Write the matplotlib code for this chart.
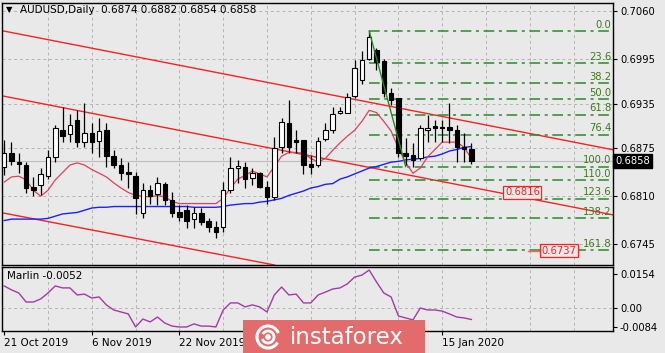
import matplotlib
matplotlib.use("Agg")
import matplotlib.pyplot as plt
from matplotlib.patches import Rectangle, Circle, Arc

# ---- data (AUDUSD daily, 21 Oct 2019 - 21 Jan 2020) ----
# labels for bars 36 and 48 are hidden under the watermark in the original
tick_bars = [0, 12, 24, 36, 48, 60]
tick_labels = ["21 Oct 2019", "6 Nov 2019", "22 Nov 2019", "", "", "15 Jan 2020"]

opens = [0.6849, 0.6868, 0.6856, 0.6852, 0.6823, 0.6825, 0.6837, 0.6863, 0.6900, 0.6894,
         0.6913, 0.6883, 0.6895, 0.6884, 0.6899, 0.6864, 0.6852, 0.6842, 0.6837, 0.6787,
         0.6818, 0.6813, 0.6826, 0.6805, 0.6788, 0.6791, 0.6779, 0.6787, 0.6777, 0.6769,
         0.6769, 0.6818, 0.6848, 0.6849, 0.6834, 0.6841, 0.6823, 0.6809, 0.6876, 0.6909,
         0.6886, 0.6886, 0.6853, 0.6852, 0.6887, 0.6899, 0.6922, 0.6923, 0.6945, 0.6967,
         0.6995, 0.7007, 0.6992, 0.6949, 0.6942, 0.6868, 0.6865, 0.6862, 0.6899, 0.6905,
         0.6904, 0.6903, 0.6899, 0.6876, 0.6874]
highs = [0.6886, 0.6883, 0.6869, 0.6856, 0.6836, 0.6848, 0.6873, 0.6906, 0.6930, 0.6921,
         0.6926, 0.6936, 0.6909, 0.6915, 0.6909, 0.6872, 0.6861, 0.6856, 0.6842, 0.6828,
         0.6825, 0.6836, 0.6829, 0.6815, 0.6798, 0.6798, 0.6795, 0.6794, 0.6781, 0.6777,
         0.6829, 0.6863, 0.6859, 0.6856, 0.6848, 0.6842, 0.6831, 0.6890, 0.6915, 0.6940,
         0.6899, 0.6886, 0.6865, 0.6890, 0.6909, 0.6930, 0.6930, 0.6950, 0.6994, 0.7006,
         0.7033, 0.7010, 0.6995, 0.6956, 0.6942, 0.6888, 0.6882, 0.6906, 0.6920, 0.6913,
         0.6913, 0.6936, 0.6906, 0.6895, 0.6882]
lows = [0.6838, 0.6852, 0.6841, 0.6814, 0.6810, 0.6811, 0.6833, 0.6856, 0.6883, 0.6883,
        0.6877, 0.6876, 0.6868, 0.6863, 0.6849, 0.6848, 0.6832, 0.6821, 0.6786, 0.6780,
        0.6800, 0.6798, 0.6798, 0.6782, 0.6777, 0.6767, 0.6767, 0.6771, 0.6761, 0.6754,
        0.6761, 0.6814, 0.6828, 0.6821, 0.6825, 0.6821, 0.6800, 0.6805, 0.6869, 0.6869,
        0.6869, 0.6840, 0.6840, 0.6849, 0.6884, 0.6895, 0.6921, 0.6922, 0.6942, 0.6961,
        0.6994, 0.6980, 0.6944, 0.6933, 0.6863, 0.6852, 0.6849, 0.6859, 0.6883, 0.6883,
        0.6883, 0.6882, 0.6856, 0.6856, 0.6854]
closes = [0.6869, 0.6857, 0.6854, 0.6821, 0.6819, 0.6840, 0.6863, 0.6902, 0.6891, 0.6906,
          0.6883, 0.6895, 0.6883, 0.6898, 0.6864, 0.6852, 0.6841, 0.6840, 0.6807, 0.6818,
          0.6810, 0.6828, 0.6805, 0.6787, 0.6782, 0.6777, 0.6787, 0.6775, 0.6768, 0.6761,
          0.6819, 0.6848, 0.6851, 0.6833, 0.6841, 0.6822, 0.6809, 0.6875, 0.6910, 0.6876,
          0.6883, 0.6852, 0.6850, 0.6884, 0.6900, 0.6921, 0.6925, 0.6944, 0.6983, 0.6994,
          0.7025, 0.6991, 0.6949, 0.6940, 0.6868, 0.6864, 0.6859, 0.6902, 0.6902, 0.6902,
          0.6902, 0.6899, 0.6876, 0.6874, 0.6858]

ma_fast = [0.6829, 0.6836, 0.6837, 0.6832, 0.6818, 0.6810, 0.6818, 0.6832, 0.6842, 0.6852,
           0.6855, 0.6852, 0.6846, 0.6841, 0.6836, 0.6828, 0.6821, 0.6815, 0.6811, 0.6810,
           0.6809, 0.6811, 0.6809, 0.6803, 0.6800, 0.6800, 0.6800, 0.6800, 0.6800, 0.6800,
           0.6807, 0.6821, 0.6833, 0.6838, 0.6844, 0.6840, 0.6836, 0.6850, 0.6864, 0.6869,
           0.6869, 0.6868, 0.6861, 0.6856, 0.6861, 0.6872, 0.6882, 0.6891, 0.6899, 0.6911,
           0.6926, 0.6923, 0.6911, 0.6898, 0.6875, 0.6855, 0.6841, 0.6848, 0.6863, 0.6873,
           0.6883, 0.6883, 0.6883, 0.6876, 0.6861]
ma_slow = [0.6777, 0.6779, 0.6779, 0.6779, 0.6779, 0.6779, 0.6780, 0.6783, 0.6786, 0.6787,
           0.6788, 0.6791, 0.6794, 0.6795, 0.6795, 0.6796, 0.6796, 0.6796, 0.6796, 0.6796,
           0.6796, 0.6796, 0.6796, 0.6796, 0.6796, 0.6796, 0.6795, 0.6795, 0.6795, 0.6795,
           0.6796, 0.6798, 0.6799, 0.6800, 0.6800, 0.6802, 0.6803, 0.6805, 0.6807, 0.6811,
           0.6814, 0.6817, 0.6821, 0.6823, 0.6826, 0.6827, 0.6833, 0.6836, 0.6840, 0.6844,
           0.6848, 0.6850, 0.6853, 0.6856, 0.6857, 0.6859, 0.6860, 0.6861, 0.6863, 0.6864,
           0.6867, 0.6871, 0.6873, 0.6876, 0.6877]
marlin = [0.0100, 0.0082, 0.0068, 0.0027, 0.0027, 0.0041, 0.0068, 0.0100, 0.0091, 0.0091,
          0.0059, 0.0063, 0.0045, 0.0050, 0.0014, -0.0009, -0.0018, -0.0027, -0.0086, -0.0050,
          -0.0063, -0.0041, -0.0068, -0.0082, -0.0086, -0.0086, -0.0072, -0.0082, -0.0082, -0.0086,
          -0.0009, 0.0023, 0.0023, 0.0005, 0.0014, 0.0005, -0.0018, 0.0059, 0.0095, 0.0059,
          0.0063, 0.0023, 0.0023, 0.0059, 0.0072, 0.0086, 0.0091, 0.0109, 0.0140, 0.0149,
          0.0172, 0.0118, 0.0068, 0.0050, -0.0036, -0.0045, -0.0054, 0.0000, -0.0009, -0.0009,
          -0.0014, -0.0027, -0.0041, -0.0045, -0.0052]

# channel lines: two anchor points (bar, price) each
channel_lines = [[(0, 0.7033), (64, 0.6910)],
                 [(0, 0.6945), (64, 0.6822)],
                 [(0, 0.6787), (64, 0.6666)]]

# fibonacci grid
fib_start, fib_end = 50, 55
fib_high, fib_low = 0.7033, 0.6850
fib_levels = [0.0, 23.6, 38.2, 50.0, 61.8, 76.4, 100.0, 110.0, 123.6, 138.2, 161.8]

price_ticks = [0.7060, 0.6995, 0.6935, 0.6875, 0.6810, 0.6745]
marlin_ticks = [0.0154, 0.0, -0.0084]
last_price = 0.6858

W, H = 665, 353
bg = "#e9e9e9"
font = "DejaVu Sans"
fs = 7.2

fig = plt.figure(figsize=(W / 100, H / 100), dpi=100, facecolor=bg)
ax = fig.add_axes([2 / W, 1 - 265 / H, 611 / W, 262 / H], facecolor=bg)
ax2 = fig.add_axes([2 / W, 1 - 331 / H, 611 / W, 64 / H], facecolor=bg)

xlim = (-0.3, 83.4)
for a in (ax, ax2):
    a.set_xlim(*xlim)
    for s in a.spines.values():
        s.set_color("black")
        s.set_linewidth(1.0)
    a.yaxis.tick_right()
    a.tick_params(axis="y", direction="out", length=3, width=0.8, pad=2,
                  labelsize=fs, colors="black")
    # vertical grid every 6 bars
    for gx in range(6, 84, 6):
        a.axvline(gx, color="#b4b4b4", lw=0.7, ls=(0, (3, 3)), zorder=0)

ax.set_ylim(0.6717, 0.7071)
ax.set_yticks(price_ticks)
ax.set_yticklabels(["%.4f" % v for v in price_ticks], family=font)
for v in price_ticks:
    ax.axhline(v, color="#b4b4b4", lw=0.7, ls=(0, (3, 3)), zorder=0)
ax.set_xticks([])

# channel lines
for (x1, y1), (x2, y2) in channel_lines:
    ax.axline((x1, y1), (x2, y2), color="#ff2020", lw=1.0, zorder=2)

# bid line
ax.axhline(last_price, color="#bdbdbd", lw=0.8, zorder=1)

# moving averages
n = len(closes)
xs = list(range(n))
ax.plot(xs, ma_slow, color="#2020ff", lw=1.0, zorder=3)
ax.plot(xs, ma_fast, color="#e0405a", lw=0.9, zorder=3)

# candles
body_w = 0.62
for i in xs:
    o, h, l, c = opens[i], highs[i], lows[i], closes[i]
    ax.vlines(i, l, h, color="black", lw=0.9, zorder=4)
    lo, hi = min(o, c), max(o, c)
    if hi - lo < 0.00012:
        hi = lo + 0.00012
    face = "white" if c >= o else "black"
    ax.add_patch(Rectangle((i - body_w / 2, lo), body_w, hi - lo, facecolor=face,
                           edgecolor="black", lw=0.8, zorder=5))

# fibonacci levels
rng = fib_high - fib_low
ax.plot([fib_start, fib_end], [fib_high, fib_low], color="#1f8a1f", lw=1.0, zorder=6)
for lvl in fib_levels:
    p = fib_high - lvl / 100.0 * rng
    ax.plot([fib_start, xlim[1]], [p, p], color="#2a8a2a", lw=1.1,
            ls=(0, (7, 3, 2, 3)), zorder=2)
    ax.text(xlim[1] - 0.25, p + 0.00018, "%.1f" % lvl, ha="right", va="bottom",
            color="#3d7a1a", fontsize=fs, family=font, zorder=7)

# projected price boxes
ax.text(68.6, 0.6815, "0.6816", color="#ff2020", fontsize=fs, family=font,
        va="center", ha="left", zorder=8,
        bbox=dict(boxstyle="square,pad=0.15", fc=bg, ec="#ff2020", lw=0.9))
ax.plot([71.8, 73.4], [0.6736, 0.6736], color="#ff6060", lw=1.0, zorder=7)
ax.text(73.6, 0.6736, "0.6737", color="#ff2020", fontsize=fs, family=font,
        va="center", ha="left", zorder=8,
        bbox=dict(boxstyle="square,pad=0.15", fc=bg, ec="#ff2020", lw=0.9))

# last price box
ax.text(1.004, last_price, "%.4f" % last_price, transform=ax.get_yaxis_transform(),
        color="white", fontsize=fs, family=font, va="center", ha="left", zorder=9,
        bbox=dict(boxstyle="square,pad=0.2", fc="black", ec="black"), clip_on=False)

# title
ax.text(0.006, 0.975, "\u25bc", transform=ax.transAxes, fontsize=6, family=font,
        va="center", ha="left")
ax.text(0.029, 0.975, "AUDUSD,Daily  0.6874 0.6882 0.6854 0.6858",
        transform=ax.transAxes, fontsize=fs + 0.3, family=font, va="center", ha="left")

# Marlin oscillator
ax2.set_ylim(-0.01042, 0.01857)
ax2.set_yticks(marlin_ticks)
ax2.set_yticklabels(["0.0154", "0.00", "-0.0084"], family=font)
ax2.axhline(0.0, color="#b4b4b4", lw=0.7, ls=(0, (3, 3)), zorder=0)
ax2.plot(xs, marlin, color="#a43aa8", lw=1.0)
ax2.text(0.008, 0.86, "Marlin -0.0052", transform=ax2.transAxes, fontsize=fs + 0.3,
         family=font, va="center", ha="left")
ax2.set_xticks(tick_bars)
ax2.set_xticklabels(tick_labels, family=font, fontsize=fs + 0.3, ha="left")
ax2.tick_params(axis="x", direction="out", length=3, width=0.8, pad=2)

# instaforex watermark
wm = fig.add_axes([243 / W, 0, 182 / W, 33 / H])
wm.set_xlim(0, 182)
wm.set_ylim(0, 33)
wm.axis("off")
wm.add_patch(Rectangle((0, 0), 182, 33, facecolor="#e36b6b", edgecolor="none"))
wm.add_patch(Arc((25, 16), 22, 22, theta1=20, theta2=330, color="white", lw=2.2))
wm.add_patch(Arc((25, 16), 12, 12, theta1=200, theta2=150, color="white", lw=2.0))
wm.add_patch(Circle((25, 16), 2.2, color="white"))
wm.text(47, 16, "instaforex", color="white", fontsize=16.5, family=font,
        va="center", ha="left")

fig.savefig("out.png", dpi=100, facecolor=bg)
